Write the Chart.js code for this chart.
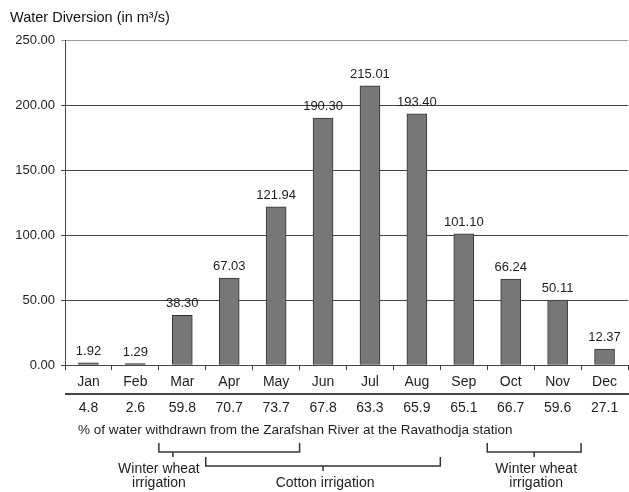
<!DOCTYPE html>
<html>
<head>
<meta charset="utf-8">
<script src="https://cdn.jsdelivr.net/npm/chart.js@4/dist/chart.umd.min.js"></script>
<style>
html,body{margin:0;padding:0;background:#fff}
</style>
</head>
<body>
<canvas id="diversionChart" width="629" height="492"></canvas>
<script>
// monthly values
var months = ['Jan','Feb','Mar','Apr','May','Jun','Jul','Aug','Sep','Oct','Nov','Dec'];
var diversion = [1.92, 1.29, 38.30, 67.03, 121.94, 190.30, 215.01, 193.40, 101.10, 66.24, 50.11, 12.37];
var withdrawnPct = ['4.8','2.6','59.8','70.7','73.7','67.8','63.3','65.9','65.1','66.7','59.6','27.1'];
var yTicks = [0, 50, 100, 150, 200, 250];

// irrigation periods (month index from / to)
var periodFrom = [2, 3, 9];
var periodTo = [4, 7, 10];
var periodLabels = [['Winter wheat','irrigation'], ['Cotton irrigation'], ['Winter wheat','irrigation']];

var fam = '"Liberation Sans", Arial, sans-serif';
Chart.defaults.font.family = fam;
Chart.defaults.font.size = 13;
Chart.defaults.color = '#222';

var txtCol = '#1e1e1e';
var lineCol = '#444';

//막대 위 값 + 아래 표, 괄호
var extras = {
	id: 'extras',
	afterDraw: function(chart){
		var ctx = chart.ctx;
		var x = chart.scales.x;
		var half = (x.getPixelForValue(1) - x.getPixelForValue(0)) / 2;
		ctx.save();
		ctx.fillStyle = txtCol;
		ctx.font = '13px ' + fam;
		ctx.textAlign = 'center';
		ctx.textBaseline = 'alphabetic';

		//bar values
		var meta = chart.getDatasetMeta(0);
		$each(meta.data, function(i, bar){
			ctx.fillText(diversion[i].toFixed(2), bar.x, bar.y - 8);
		});

		//separator line
		ctx.strokeStyle = lineCol;
		ctx.lineWidth = 2;
		ctx.beginPath();
		ctx.moveTo(x.left, 394);
		ctx.lineTo(chart.width, 394);
		ctx.stroke();

		//% row
		ctx.font = '14px ' + fam;
		ctx.textBaseline = 'middle';
		$each(withdrawnPct, function(i, p){
			ctx.fillText(p, x.getPixelForValue(i), 408);
		});
		ctx.font = '13.5px ' + fam;
		ctx.textAlign = 'left';
		ctx.fillText('% of water withdrawn from the Zarafshan River at the Ravathodja station', 78, 430);

		//brackets
		ctx.font = '14px ' + fam;
		ctx.lineWidth = 1.5;
		ctx.strokeStyle = '#333';
		var tops = [443, 457, 443];
		var tickAt = [0.1, 0.5, 0.5];
		var labelShift = [-14, 2, 2];
		$each(periodFrom, function(k){
			var l = x.getPixelForValue(periodFrom[k]) - half;
			var r = x.getPixelForValue(periodTo[k]) + half;
			var t = tops[k], b = t + 9;
			var tx = l + (r - l) * tickAt[k];
			ctx.beginPath();
			ctx.moveTo(l, t); ctx.lineTo(l, b); ctx.lineTo(r, b); ctx.lineTo(r, t);
			ctx.moveTo(tx, b); ctx.lineTo(tx, b + 5);
			ctx.stroke();
			ctx.textAlign = 'center';
			var lines = periodLabels[k];
			var y0 = lines.length > 1 ? 469 : 483;
			$each(lines, function(j, s){
				ctx.fillText(s, tx + labelShift[k], y0 + j * 14);
			});
		});
		ctx.restore();
	}
};

function $each(arr, fn){
	for (var i = 0; i < arr.length; i++) fn(i, arr[i]);
}

var ctx = document.getElementById('diversionChart').getContext('2d');
var myChart = new Chart(ctx, {
	type: 'bar',
	data: {
		labels: months,
		datasets: [{
			data: diversion,
			backgroundColor: '#777',
			borderColor: '#333',
			borderWidth: 1,
			barThickness: 20
		}]
	},
	options: {
		responsive: false,
		animation: false,
		layout: { padding: { left: 10, right: 1, top: 0, bottom: 97 } },
		plugins: {
			legend: { display: false },
			tooltip: { enabled: false },
			title: {
				display: true,
				text: 'Water Diversion (in m³/s)',
				align: 'start',
				color: '#111',
				font: { size: 14.5, weight: 'normal' },
				padding: { top: 9, bottom: 14 }
			}
		},
		scales: {
			x: {
				grid: { offset: true, drawOnChartArea: false, tickLength: 5, color: lineCol },
				border: { color: lineCol, width: 1 },
				ticks: { color: txtCol, padding: 4, font: { size: 14 } }
			},
			y: {
				min: 0,
				max: 250,
				afterFit: function(scale){ scale.width = 55; },
				afterBuildTicks: function(scale){
					scale.ticks = yTicks.map(function(v){ return { value: v }; });
				},
				grid: {
					color: function(c){ return c.tick && c.tick.value === 250 ? '#999' : lineCol; },
					tickLength: 4
				},
				border: { color: lineCol, width: 1 },
				ticks: {
					color: txtCol,
					padding: 6,
					callback: function(v){ return Number(v).toFixed(2); }
				}
			}
		}
	},
	plugins: [extras]
});
</script>
</body>
</html>
